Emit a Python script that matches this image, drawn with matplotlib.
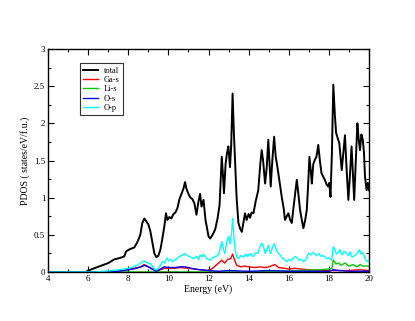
import numpy as np
import matplotlib.pyplot as plt
from matplotlib.ticker import MultipleLocator

# =========================================
# DATA
# =========================================
total_e = [4.0, 5.9, 6.0, 6.5, 7.0, 7.3, 7.6, 7.8, 7.9, 8.1, 8.3, 8.45, 8.6, 8.7, 8.8, 8.9, 9.0,
           9.1, 9.2, 9.3, 9.4, 9.5, 9.6, 9.7, 9.8, 9.88, 9.95, 10.05, 10.15, 10.25, 10.35,
           10.45, 10.55, 10.65, 10.75, 10.83, 10.9, 11.0, 11.1, 11.2, 11.3, 11.4, 11.5,
           11.58, 11.65, 11.75, 11.85, 11.91, 12.0, 12.08, 12.2, 12.33, 12.45, 12.55, 12.66,
           12.72, 12.77, 12.85, 12.92, 12.99, 13.07, 13.13, 13.2, 13.26, 13.32, 13.4, 13.49,
           13.58, 13.66, 13.75, 13.82, 13.9, 14.0, 14.07, 14.15, 14.24, 14.35, 14.48, 14.58,
           14.65, 14.72, 14.82, 14.9, 14.98, 15.05, 15.1, 15.18, 15.27, 15.35, 15.43, 15.55,
           15.65, 15.75, 15.81, 15.9, 15.98, 16.07, 16.15, 16.25, 16.4, 16.48, 16.56, 16.65,
           16.73, 16.82, 16.9, 16.97, 17.03, 17.1, 17.15, 17.22, 17.3, 17.38, 17.47, 17.55,
           17.63, 17.72, 17.8, 17.88, 17.96, 18.02, 18.08, 18.15, 18.22, 18.3, 18.36, 18.44,
           18.52, 18.58, 18.64, 18.72, 18.8, 18.88, 18.97, 19.05, 19.13, 19.2, 19.26, 19.34,
           19.42, 19.48, 19.55, 19.62, 19.69, 19.75, 19.8, 19.88, 19.94, 20.0]
total = [0.0, 0.0, 0.02, 0.07, 0.12, 0.17, 0.19, 0.21, 0.28, 0.31, 0.33, 0.40, 0.50, 0.66, 0.72,
         0.68, 0.64, 0.55, 0.40, 0.25, 0.20, 0.22, 0.30, 0.45, 0.62, 0.79, 0.70, 0.74, 0.72,
         0.78, 0.80, 0.86, 0.98, 1.05, 1.12, 1.21, 1.12, 1.05, 1.00, 0.98, 0.92, 0.77, 0.95,
         1.05, 0.88, 0.97, 0.70, 0.61, 0.48, 0.45, 0.50, 0.57, 0.72, 0.90, 1.55, 1.30, 1.06,
         1.45, 1.60, 1.69, 1.41, 1.70, 2.40, 1.90, 1.51, 1.00, 0.66, 0.58, 0.54, 0.68, 0.79,
         0.70, 0.78, 0.73, 0.80, 0.79, 0.95, 1.10, 1.45, 1.64, 1.50, 1.19, 1.40, 1.78, 1.40,
         1.15, 1.50, 1.82, 1.55, 1.42, 1.20, 1.01, 0.85, 0.70, 0.75, 0.79, 0.70, 0.66, 0.90,
         1.24, 1.05, 0.84, 0.70, 0.59, 0.70, 0.84, 1.20, 1.55, 1.35, 1.19, 1.45, 1.51, 1.55,
         1.71, 1.50, 1.33, 1.28, 1.24, 1.18, 1.15, 1.20, 1.01, 1.60, 2.52, 2.10, 1.87, 1.80,
         1.73, 1.55, 1.37, 1.60, 1.84, 1.40, 0.97, 1.30, 1.69, 1.30, 0.97, 1.50, 2.00, 1.80,
         1.64, 1.85, 1.78, 1.60, 1.28, 1.10, 1.20, 1.10]

ga_e = [4.0, 7.0, 7.5, 8.0, 8.3, 8.6, 8.8, 9.0, 9.2, 9.4, 9.6, 9.8, 10.0, 10.3, 10.6, 11.0,
        11.3, 11.6, 11.9, 12.1, 12.33, 12.5, 12.66, 12.8, 12.95, 13.1, 13.2, 13.3, 13.4, 13.6,
        13.8, 14.0, 14.3, 14.6, 14.8, 15.0, 15.3, 15.5, 15.8, 16.0, 16.3, 16.6, 17.0, 17.5,
        18.0, 18.5, 19.0, 19.5, 20.0]
ga_s = [0.0, 0.0, 0.01, 0.03, 0.05, 0.07, 0.10, 0.07, 0.04, 0.01, 0.03, 0.05, 0.05, 0.05, 0.06,
        0.05, 0.04, 0.03, 0.02, 0.03, 0.08, 0.12, 0.16, 0.12, 0.17, 0.18, 0.24, 0.16, 0.09, 0.07,
        0.08, 0.07, 0.06, 0.07, 0.06, 0.07, 0.10, 0.06, 0.05, 0.04, 0.05, 0.04, 0.03, 0.02,
        0.02, 0.02, 0.02, 0.03, 0.02]

li_e = [4.0, 14.0, 15.0, 16.0, 16.5, 17.0, 17.5, 18.0, 18.15, 18.22, 18.35, 18.5, 18.6, 18.8,
        19.0, 19.2, 19.4, 19.55, 19.7, 20.0]
li_s = [0.0, 0.0, 0.01, 0.015, 0.02, 0.025, 0.03, 0.04, 0.05, 0.16, 0.11, 0.12, 0.09, 0.12,
        0.08, 0.10, 0.07, 0.10, 0.08, 0.08]

os_e = [4.0, 7.0, 7.5, 8.0, 8.4, 8.65, 8.8, 9.0, 9.2, 9.4, 9.6, 9.8, 10.0, 10.3, 10.6, 10.8,
        11.0, 11.3, 11.6, 12.0, 12.5, 13.0, 14.0, 15.0, 16.0, 17.0, 18.0, 18.22, 18.5, 19.0, 20.0]
o_s = [0.0, 0.0, 0.01, 0.03, 0.05, 0.07, 0.09, 0.07, 0.04, 0.01, 0.04, 0.07, 0.06, 0.06, 0.07,
       0.07, 0.06, 0.04, 0.03, 0.02, 0.01, 0.02, 0.01, 0.02, 0.01, 0.01, 0.01, 0.03, 0.02, 0.01,
       0.01]

op_e = [4.0, 6.3, 6.8, 7.2, 7.5, 7.75, 8.0, 8.25, 8.5, 8.65, 8.75, 8.9, 9.08, 9.2, 9.3, 9.4,
        9.5, 9.6, 9.7, 9.8, 9.92, 10.0, 10.1, 10.2, 10.3, 10.42, 10.55, 10.7, 10.83, 10.95,
        11.1, 11.25, 11.4, 11.5, 11.58, 11.66, 11.75, 11.91, 12.08, 12.2, 12.33, 12.45, 12.55,
        12.66, 12.75, 12.82, 12.9, 12.99, 13.07, 13.14, 13.2, 13.27, 13.33, 13.4, 13.5, 13.6,
        13.74, 13.85, 13.95, 14.05, 14.15, 14.24, 14.35, 14.45, 14.55, 14.65, 14.74, 14.82,
        14.9, 14.98, 15.05, 15.1, 15.18, 15.27, 15.35, 15.45, 15.57, 15.7, 15.8, 15.9, 16.0,
        16.1, 16.2, 16.3, 16.4, 16.5, 16.6, 16.73, 16.85, 16.98, 17.08, 17.2, 17.3, 17.38,
        17.5, 17.6, 17.72, 17.88, 18.0, 18.13, 18.22, 18.3, 18.38, 18.47, 18.55, 18.65, 18.75,
        18.88, 18.97, 19.05, 19.15, 19.22, 19.32, 19.42, 19.52, 19.6, 19.7, 19.8, 19.89, 20.0]
o_p = [0.0, 0.0, 0.01, 0.02, 0.03, 0.04, 0.05, 0.07, 0.10, 0.13, 0.15, 0.13, 0.11, 0.08, 0.04,
       0.03, 0.05, 0.09, 0.14, 0.12, 0.19, 0.15, 0.17, 0.14, 0.16, 0.18, 0.21, 0.23, 0.25, 0.22,
       0.20, 0.18, 0.21, 0.17, 0.23, 0.20, 0.24, 0.18, 0.16, 0.19, 0.21, 0.22, 0.28, 0.41, 0.30,
       0.25, 0.40, 0.48, 0.38, 0.50, 0.72, 0.45, 0.30, 0.20, 0.18, 0.22, 0.20, 0.24, 0.21, 0.25,
       0.22, 0.21, 0.26, 0.25, 0.33, 0.39, 0.34, 0.25, 0.30, 0.36, 0.28, 0.25, 0.33, 0.38, 0.32,
       0.26, 0.23, 0.18, 0.16, 0.14, 0.17, 0.15, 0.18, 0.21, 0.19, 0.16, 0.17, 0.14, 0.17, 0.25,
       0.23, 0.26, 0.24, 0.22, 0.25, 0.21, 0.22, 0.18, 0.19, 0.16, 0.34, 0.30, 0.24, 0.27, 0.30,
       0.23, 0.28, 0.25, 0.22, 0.27, 0.20, 0.21, 0.23, 0.26, 0.30, 0.24, 0.26, 0.18, 0.14, 0.15]

x_ticks = [4, 6, 8, 10, 12, 14, 16, 18, 20]
y_ticks = [0, 0.5, 1, 1.5, 2, 2.5, 3]
y_tick_labels = ["0", "0.5", "1", "1.5", "2", "2.5", "3"]

# =========================================
# PLOT
# =========================================
plt.rcParams["font.family"] = "Liberation Serif"

fig = plt.figure(figsize=(4.15, 3.21), dpi=100)
ax = fig.add_axes([0.1157, 0.1526, 0.7735, 0.6948])

ax.plot(total_e, total, color="black", linewidth=1.4, label="total")
ax.plot(ga_e, ga_s, color="#ff0000", linewidth=1.0, label="Ga-s")
ax.plot(li_e, li_s, color="#00cc00", linewidth=1.0, label="Li-s")
ax.plot(os_e, o_s, color="#0000ff", linewidth=1.0, label="O-s")
ax.plot(op_e, o_p, color="#00ffff", linewidth=1.0, label="O-p")

ax.set_xlim(4, 20)
ax.set_ylim(0, 3)
ax.set_xticks(x_ticks)
ax.set_yticks(y_ticks)
ax.set_yticklabels(y_tick_labels)
ax.xaxis.set_minor_locator(MultipleLocator(1))
ax.yaxis.set_minor_locator(MultipleLocator(0.25))
ax.tick_params(which="both", direction="in", top=True, right=True, labelsize=6.5, pad=2)
ax.tick_params(which="major", length=4, width=0.8)
ax.tick_params(which="minor", length=2, width=0.8)

for spine in ax.spines.values():
    spine.set_linewidth(1.0)

ax.set_xlabel("Energy (eV)", fontsize=7, labelpad=1)
ax.set_ylabel("PDOS ( states/eV/f.u.)", fontsize=7, labelpad=3)

leg = ax.legend(loc="upper left", bbox_to_anchor=(0.1, 0.935), fontsize=6,
                frameon=True, fancybox=False, edgecolor="black", handlelength=1.7,
                handletextpad=0.7, labelspacing=0.15, borderpad=0.4, borderaxespad=0)
leg.get_frame().set_linewidth(0.8)

plt.savefig("out.png", dpi=100)
